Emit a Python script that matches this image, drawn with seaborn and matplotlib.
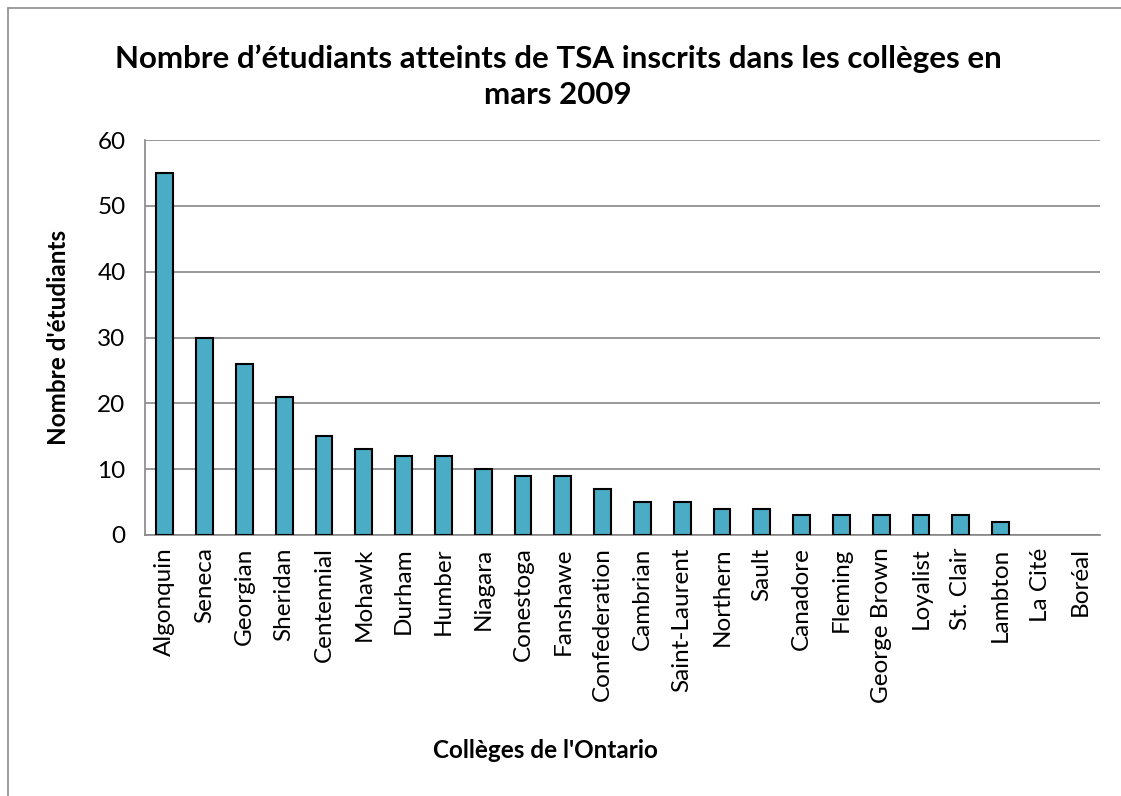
import numpy as np
import pandas as pd
import matplotlib.pyplot as plt
import seaborn as sns
from matplotlib.lines import Line2D

colleges = ['Algonquin', 'Seneca', 'Georgian', 'Sheridan', 'Centennial', 'Mohawk',
            'Durham', 'Humber', 'Niagara', 'Conestoga', 'Fanshawe', 'Confederation',
            'Cambrian', 'Saint-Laurent', 'Northern', 'Sault', 'Canadore', 'Fleming',
            'George Brown', 'Loyalist', 'St. Clair', 'Lambton', 'La Cité', 'Boréal']
students = [55, 30, 26, 21, 15, 13, 12, 12, 10, 9, 9, 7, 5, 5, 4, 4, 3, 3, 3, 3, 3, 2, 0, 0]
y_ticks = [0, 10, 20, 30, 40, 50, 60]

df = pd.DataFrame({'college': colleges, 'students': students})

sns.set_style('white')
plt.rcParams['font.family'] = ['Lato', 'DejaVu Sans']
plt.rcParams['text.color'] = 'black'

grid_col = '#868686'

fig = plt.figure(figsize=(11.21, 7.96), dpi=100)
ax = fig.add_axes([0.1293, 0.3279, 0.852, 0.4962])

sns.barplot(data=df, x='college', y='students', color='#4BACC6', saturation=1,
            edgecolor='black', linewidth=1.5, width=0.42, ax=ax, zorder=3)

# no outline for empty bars
for p in ax.patches:
    if p.get_height() == 0:
        p.set_linewidth(0)

ax.set_ylim(0, 60)
ax.set_xlim(-0.5, len(colleges) - 0.5)
ax.set_yticks(y_ticks)
ax.yaxis.grid(True, color=grid_col, linewidth=1.2, zorder=0)
ax.set_axisbelow(True)

ax.set_xticks(range(len(colleges)))
ax.set_xticklabels(colleges, rotation=90, fontsize=17.5)
ax.set_xticks(np.arange(-0.5, len(colleges), 1), minor=True)
ax.tick_params(axis='x', which='major', length=0, pad=9, labelcolor='black')
ax.tick_params(axis='x', which='minor', length=6, width=1.2, color=grid_col, direction='out')
ax.tick_params(axis='y', length=6, width=1.2, color=grid_col, direction='out',
               labelsize=17.5, pad=8, labelcolor='black')

for s in ['top', 'right']:
    ax.spines[s].set_visible(False)
for s in ['left', 'bottom']:
    ax.spines[s].set_color(grid_col)
    ax.spines[s].set_linewidth(1.2)

ax.set_xlabel('')
ax.set_ylabel('')
fig.text(58 / 1121, 1 - 337 / 796, "Nombre d'étudiants", rotation=90,
         ha='center', va='center', fontsize=17.5, fontweight='bold')
fig.text(545 / 1121, 1 - 750 / 796, "Collèges de l'Ontario",
         ha='center', va='center', fontsize=17.5, fontweight='bold')

fig.text(0.498, 1 - 77 / 796, "Nombre d’étudiants atteints de TSA inscrits dans les collèges en\nmars 2009",
         ha='center', va='center', fontsize=22.5, fontweight='bold', linespacing=1.35)

# chart-area border (left and top edges visible)
fig.add_artist(Line2D([8 / 1121, 8 / 1121], [0, 1 - 8 / 796], color='#8c8c8c', lw=1.2))
fig.add_artist(Line2D([8 / 1121, 1], [1 - 8 / 796, 1 - 8 / 796], color='#8c8c8c', lw=1.2))

fig.savefig('out.png', dpi=100)
